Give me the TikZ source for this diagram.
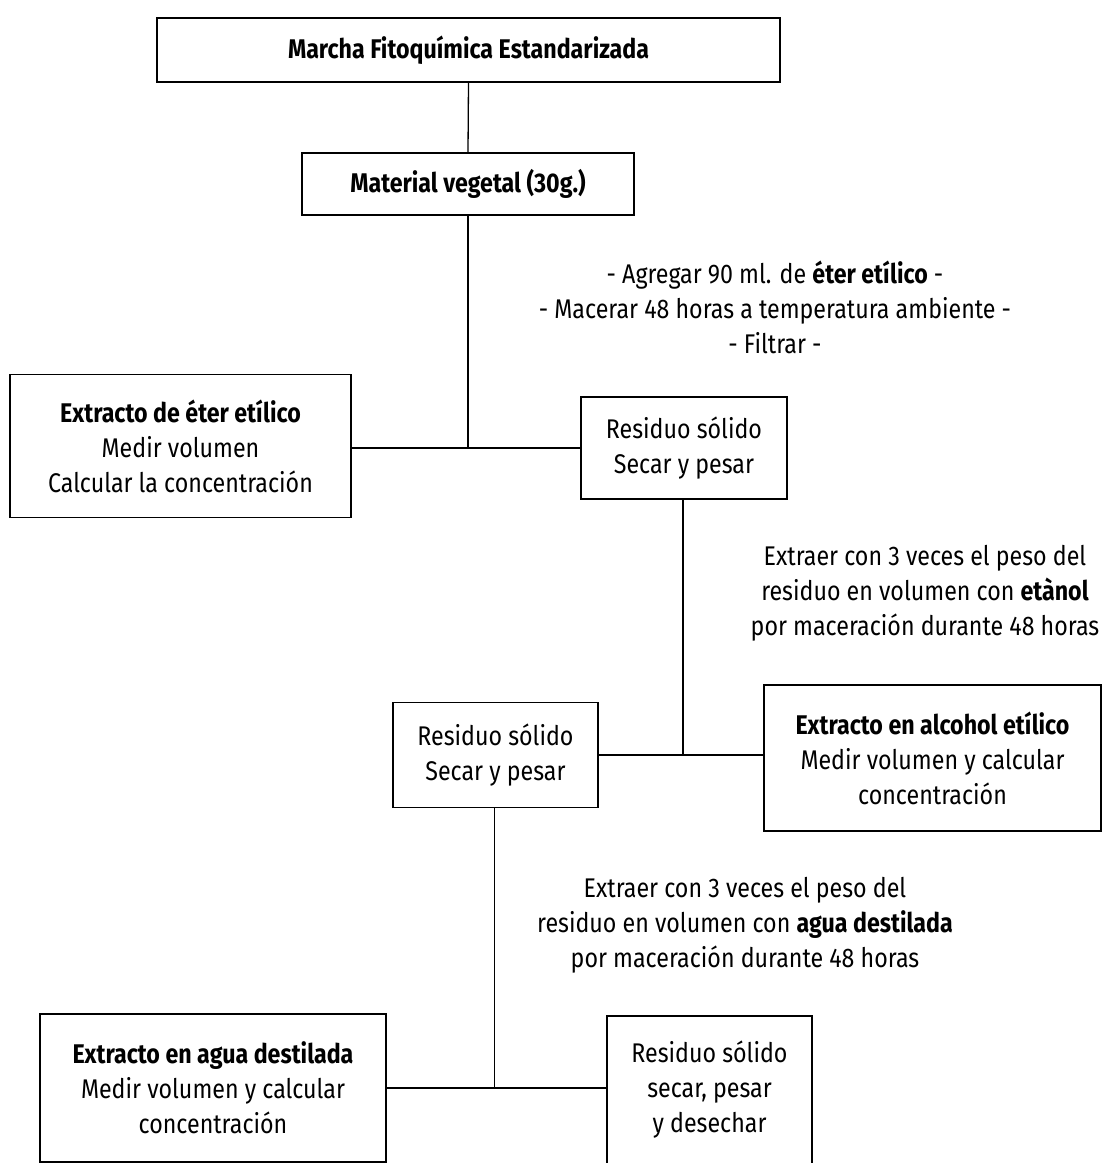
\documentclass[tikz,border=0pt]{standalone}
\usepackage{fontspec}
\setmainfont{Fira Sans}[FakeStretch=0.86]
\begin{document}
\begin{tikzpicture}[x=1pt,y=-1pt,
  every node/.style={font=\fontsize{27}{35}\selectfont},
  box/.style={draw, line width=1.6pt, align=center, inner sep=0pt},
  conn/.style={line width=1.3pt},
  lbl/.style={align=center, inner sep=0pt}]
\useasboundingbox (0,0) rectangle (1102,1163);
\clip (0,0) rectangle (1102,1163);
% boxes
\node[box, minimum width=623pt, minimum height=64pt] (t) at (468.5,50) {\textbf{Marcha Fitoquímica Estandarizada}};
\node[box, minimum width=332pt, minimum height=62pt] (mv) at (468,184) {\textbf{Material vegetal (30g.)}};
\node[box, minimum width=341pt, minimum height=143pt] (ee) at (180.5,446) {\textbf{Extracto de éter etílico}\\Medir volumen\\Calcular la concentración};
\node[box, minimum width=206pt, minimum height=102pt] (r1) at (684,448) {Residuo sólido\\Secar y pesar};
\node[box, minimum width=337pt, minimum height=146pt] (ea) at (932.5,758) {\textbf{Extracto en alcohol etílico}\\Medir volumen y calcular\\concentración};
\node[box, minimum width=205pt, minimum height=105pt] (r2) at (495.5,755) {Residuo sólido\\Secar y pesar};
\node[box, minimum width=346pt, minimum height=148pt] (ag) at (213,1088) {\textbf{Extracto en agua destilada}\\Medir volumen y calcular\\concentración};
\node[box, minimum width=205pt, minimum height=148pt] (r3) at (709.5,1090) {Residuo sólido\\secar, pesar\\y desechar};
% labels
\node[lbl] (l1) at (775,307) {- Agregar 90 ml. de \textbf{éter etílico} -\\- Macerar 48 horas a temperatura ambiente -\\- Filtrar -};
\node[lbl] (l2) at (925,593) {Extraer con 3 veces el peso del\\residuo en volumen con \textbf{etànol}\\por maceración durante 48 horas};
\node[lbl] (l3) at (745,925) {Extraer con 3 veces el peso del\\residuo en volumen con \textbf{agua destilada}\\por maceración durante 48 horas};
% connectors
\draw[conn] (t.south) -- (mv.north);
\draw[conn] (ee.east |- r1.west) -- (r1.west);
\draw[conn] (mv.south) -- (mv.south |- r1.west);
\draw[conn] (r2.east) -- (r2.east -| ea.west);
\draw[conn] ([xshift=-1pt]r1.south) -- ([xshift=-1pt]r1.south |- r2.east);
\draw[conn] (ag.east) -- (ag.east -| r3.west);
\draw[conn] ([xshift=-1pt]r2.south) -- ([xshift=-1pt]r2.south |- ag.east);
\end{tikzpicture}
\end{document}
